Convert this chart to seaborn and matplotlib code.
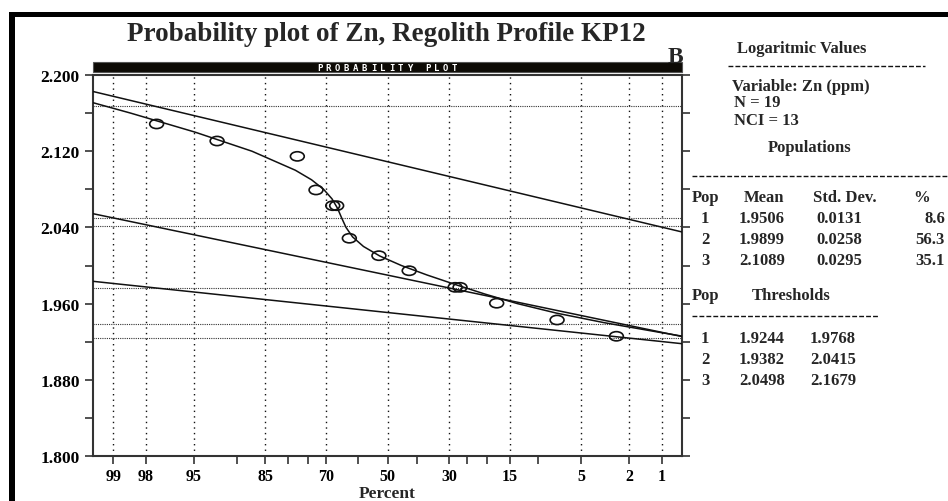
import numpy as np
import pandas as pd
import seaborn as sns
import matplotlib
matplotlib.use("Agg")
import matplotlib.pyplot as plt
from statistics import NormalDist
from matplotlib.markers import MarkerStyle
from matplotlib.transforms import Affine2D
from matplotlib.patches import Rectangle
from matplotlib.lines import Line2D

# ---------------- data ----------------
# observed points: cumulative percent, log10 Zn
point_pct = [97.5, 92.6, 77.8, 72.8, 67.9, 66.7, 62.7, 52.9, 42.7, 28.3, 26.9, 17.7, 7.5, 2.6]
point_val = [2.1486, 2.1307, 2.1146, 2.0793, 2.0628, 2.0628, 2.0286, 2.0103, 1.9945,
             1.9771, 1.9771, 1.9604, 1.9428, 1.9257]

# fitted mixture curve: cumulative percent, value
curve_pct = [99.56, 99.33, 98.54, 94.88, 87.51, 78.29, 74.05, 70.63, 68.13, 66.42, 65.15,
             63.77, 61.65, 58.09, 52.64, 45.32, 36.83, 28.22, 20.40, 13.51, 7.57, 3.30,
             1.067, 0.552]
curve_val = [2.175, 2.170, 2.160, 2.140, 2.120, 2.100, 2.090, 2.080, 2.070, 2.060, 2.050,
             2.040, 2.030, 2.020, 2.010, 2.000, 1.990, 1.980, 1.970, 1.960, 1.950, 1.940,
             1.930, 1.925]

# population lines: values at the left / right edge of the plot
edge_pct = [99.38, 0.62]
pop_left = [1.9834, 2.0544, 2.1827]
pop_right = [1.9179, 1.9254, 2.0352]

# thresholds (dotted horizontal lines)
thresholds = [1.9244, 1.9768, 1.9382, 2.0415, 2.0498, 2.1679]

# axis ticks
xtick_pct = [99, 98, 95, 90, 85, 80, 75, 70, 60, 50, 40, 30, 25, 20, 15, 10, 5, 2, 1]
xlabel_pct = [99, 98, 95, 85, 70, 50, 30, 15, 5, 2, 1]
ytick_vals = [1.80, 1.84, 1.88, 1.92, 1.96, 2.00, 2.04, 2.08, 2.12, 2.16, 2.20]
ylabel_vals = [1.80, 1.88, 1.96, 2.04, 2.12, 2.20]

# side panel table
pops = ["1", "2", "3"]
means = ["1.9506", "1.9899", "2.1089"]
sds = ["0.0131", "0.0258", "0.0295"]
pcts = ["8.6", "56.3", "35.1"]
thr_lo = ["1.9244", "1.9382", "2.0498"]
thr_hi = ["1.9768", "2.0415", "2.1679"]

ND = NormalDist()


def probit(pcts_):
    return [-ND.inv_cdf(p / 100.0) for p in pcts_]


# ---------------- style ----------------
sns.set_theme(style="ticks")
plt.rcParams["font.family"] = ["Liberation Serif", "DejaVu Serif"]
plt.rcParams["font.weight"] = "bold"

W, H = 948, 502
fig = plt.figure(figsize=(W / 100, H / 100), dpi=100)
fig.patch.set_facecolor("white")


def fx(px):
    return px / W


def fy(py):
    return (H - py) / H


ax = fig.add_axes([fx(93), fy(457), (682 - 93) / W, (457 - 76) / H])
ax.set_facecolor("white")

ink = "#111111"

# gridlines
for p in xlabel_pct:
    ax.axvline(probit([p])[0], ls=(0, (1, 3)), lw=1.0, color=ink, zorder=1)
for t in thresholds:
    ax.axhline(t, ls=(0, (1, 1)), lw=0.8, color="#333333", zorder=1)

# population lines
for lv, rv in zip(pop_left, pop_right):
    d = pd.DataFrame({"x": probit(edge_pct), "y": [lv, rv]})
    sns.lineplot(data=d, x="x", y="y", ax=ax, color=ink, lw=1.1, sort=False,
                 estimator=None, zorder=3)

# mixture curve
cdf = pd.DataFrame({"x": probit(curve_pct), "y": curve_val})
sns.lineplot(data=cdf, x="x", y="y", ax=ax, color=ink, lw=1.1, sort=False,
             estimator=None, zorder=3)

# points
pdf = pd.DataFrame({"x": probit(point_pct), "y": point_val})
ell = MarkerStyle("o", transform=Affine2D().scale(1.5, 1.0))
sns.scatterplot(data=pdf, x="x", y="y", ax=ax, marker=ell, s=44,
                facecolors="none", edgecolors=ink, linewidth=1.2, zorder=5)

ax.set_xlim(-2.5, 2.5)
ax.set_ylim(1.8, 2.2)

xt = probit(xtick_pct)
ax.set_xticks(xt)
ax.set_xticklabels([str(p) if p in xlabel_pct else "" for p in xtick_pct],
                   fontsize=11.5, fontweight="bold")
ax.set_yticks(ytick_vals)
ax.set_yticklabels([f"{v:.3f}" if any(abs(v - l) < 1e-9 for l in ylabel_vals) else ""
                    for v in ytick_vals], fontsize=12.5, fontweight="bold")
ax.tick_params(axis="both", direction="out", length=5.5, width=1.2, color="#333333",
               labelcolor="black")
ax.tick_params(axis="x", pad=3)
ax.tick_params(axis="y", pad=4, right=True)
for s in ax.spines.values():
    s.set_visible(True)
    s.set_color("#333333")
    s.set_linewidth(1.5)
ax.set_xlabel("Percent", fontsize=12.5, fontweight="bold", labelpad=1)
ax.set_ylabel("")

# ---------------- decorations ----------------
# outer black frame (top and left edges)
fig.patches.append(Rectangle((fx(9), fy(18)), 1 - fx(9), 5 / H, transform=fig.transFigure,
                             facecolor="black", edgecolor="none", zorder=10))
fig.patches.append(Rectangle((fx(9), 0), 6 / W, fy(13), transform=fig.transFigure,
                             facecolor="black", edgecolor="none", zorder=10))

# "PROBABILITY PLOT" bar
fig.patches.append(Rectangle((fx(93), fy(73)), (682 - 93) / W, 10 / H,
                             transform=fig.transFigure, facecolor="#0d0a05",
                             edgecolor="#555555", lw=0.8, zorder=10))
for i, ch in enumerate("PROBABILITY PLOT"):
    if ch != " ":
        fig.text(fx(316 + 9 * i + 3.5), fy(68.5), ch, color="white", fontsize=6.5,
                 family="DejaVu Sans Mono", fontweight="bold",
                 ha="center", va="center", zorder=11)

fig.text(fx(386), fy(41), "Probability plot of Zn, Regolith Profile KP12",
         fontsize=19.5, fontweight="bold", ha="center", va="baseline", zorder=12)
fig.text(fx(683), fy(63), "B", fontsize=17, fontweight="bold", ha="right",
         va="baseline", zorder=12)

fs = 12


def t(px, py, s, ha="left"):
    fig.text(fx(px), fy(py), s, fontsize=fs, fontweight="bold", ha=ha, va="baseline")


def dashes(x0, x1, py):
    fig.lines.append(Line2D([fx(x0), fx(x1)], [fy(py), fy(py)], transform=fig.transFigure,
                            color=ink, lw=1.0, ls=(0, (3.5, 1.5))))


t(737, 53, "Logaritmic Values")
dashes(728, 925, 67)
t(732, 91, "Variable: Zn (ppm)")
t(734, 107, "N = 19")
t(734, 125, "NCI = 13")
t(768, 152, "Populations")
dashes(692, 948, 177)
t(692, 202, "Pop")
t(744, 202, "Mean")
t(813, 202, "Std. Dev.")
t(913, 202, "%")
for i, yb in enumerate([223, 244, 265]):
    t(705, yb, pops[i], ha="center")
    t(739, yb, means[i])
    t(816, yb, sds[i])
    t(945, yb, pcts[i], ha="right")
t(692, 300, "Pop")
t(752, 300, "Thresholds")
dashes(692, 878, 317)
for i, yb in enumerate([343, 364, 385]):
    t(705, yb, pops[i], ha="center")
    t(739, yb, thr_lo[i])
    t(810, yb, thr_hi[i])

fig.savefig("out.png", dpi=100)
